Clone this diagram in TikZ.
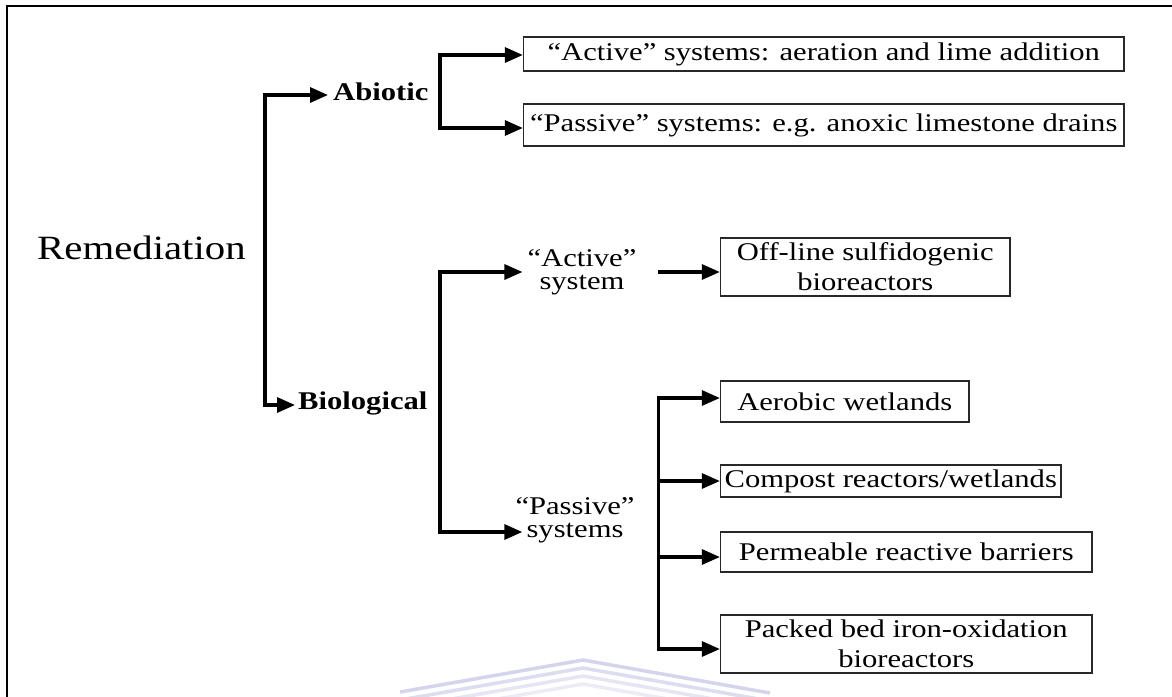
\documentclass[tikz,border=0pt]{standalone}
\usepackage{fontspec}
\setmainfont{Liberation Serif}[FakeStretch=1.2]
\usetikzlibrary{arrows.meta}
\definecolor{wm}{RGB}{212,212,236}
\definecolor{boxline}{RGB}{40,40,40}
\begin{document}
\begin{tikzpicture}[x=1pt,y=-1pt,
  conn/.style={line width=3.2pt, line join=miter, -{Triangle[length=18pt,width=15pt]}},
  boxnode/.style={draw=boxline, line width=1.3pt, inner sep=0pt, align=center,
    font=\fontsize{25.5}{30}\selectfont},
  lbl/.style={inner sep=0pt, align=center, font=\fontsize{25.5}{23}\selectfont},
  boldlbl/.style={inner sep=0pt, anchor=base west, font=\fontsize{25.5}{26}\selectfont\bfseries}]
\useasboundingbox (0,0) rectangle (1172,696);
% watermark
\foreach \d/\o in {0/1,8/0.8,16/0.6,24/0.45}
  \draw[wm, line width=3.5pt, opacity=\o] (400,692+\d) -- (583,660+\d) -- (770,693+\d);
% frame
\draw[line width=2.2pt] (7,697) -- (7,6) -- (1172,6);
% text nodes
\node[inner sep=0pt, anchor=base west, font=\fontsize{34}{36}\selectfont] (rem) at (37,259) {Remediation};
\node[boldlbl] (abi) at (333,100) {Abiotic};
\node[boldlbl] (bio) at (298,409) {Biological};
\node[lbl] (act) at (582,272) {“Active”\\system};
\node[lbl] (pas) at (575,520) {“Passive”\\systems};
% boxes
\node[boxnode, minimum width=600.5pt, minimum height=34pt] (b1) at (823.75,54) {“Active” systems: aeration and lime addition};
\node[boxnode, minimum width=600.5pt, minimum height=42pt] (b2) at (823.75,125) {“Passive” systems: e.g. anoxic limestone drains};
\node[boxnode, minimum width=289.5pt, minimum height=58pt] (off) at (865.25,267) {Off-line sulfidogenic\\bioreactors};
\node[boxnode, minimum width=248.5pt, minimum height=41pt] (aer) at (844.75,401.5) {Aerobic wetlands};
\node[boxnode, minimum width=340.5pt, minimum height=32pt] (com) at (890.75,481) {Compost reactors/wetlands};
\node[boxnode, minimum width=371.5pt, minimum height=40pt] (per) at (906.25,552) {Permeable reactive barriers};
\node[boxnode, minimum width=371.5pt, minimum height=58pt] (pac) at (906.25,644) {Packed bed iron-oxidation\\bioreactors};
% junction coordinates
\coordinate (rj1) at (265,95);
\coordinate (rj2) at (265,405);
\coordinate (aj1) at (440,55);
\coordinate (aj2) at (440,128);
\coordinate (bj1) at (440,272);
\coordinate (bj2) at (440,532);
\coordinate (pj1) at (658.5,398);
\coordinate (pj2) at (658.5,481);
\coordinate (pj3) at (658.5,557);
\coordinate (pj4) at (658.5,649);
% connectors
\draw[conn, shorten >=5pt] (rj2) -- (rj1) -- (rj1 -| abi.west);
\draw[conn, shorten >=3pt] (rj1) -- (rj2) -- (rj2 -| bio.west);
\draw[conn] (aj2) -- (aj1) -- (aj1 -| b1.west);
\draw[conn] (aj1) -- (aj2) -- (aj2 -| b2.west);
\draw[conn, shorten >=5pt] (bj2) -- (bj1) -- (bj1 -| act.west);
\draw[conn, shorten >=-7pt] (bj1) -- (bj2) -- (bj2 -| pas.west);
\draw[conn, shorten <=21pt] (act.east) -- (act.east -| off.west);
\draw[conn] (pj4) -- (pj1) -- (pj1 -| aer.west);
\draw[conn] (pj2) -- (pj2 -| com.west);
\draw[conn] (pj3) -- (pj3 -| per.west);
\draw[conn] (pj1) -- (pj4) -- (pj4 -| pac.west);
\end{tikzpicture}
\end{document}
